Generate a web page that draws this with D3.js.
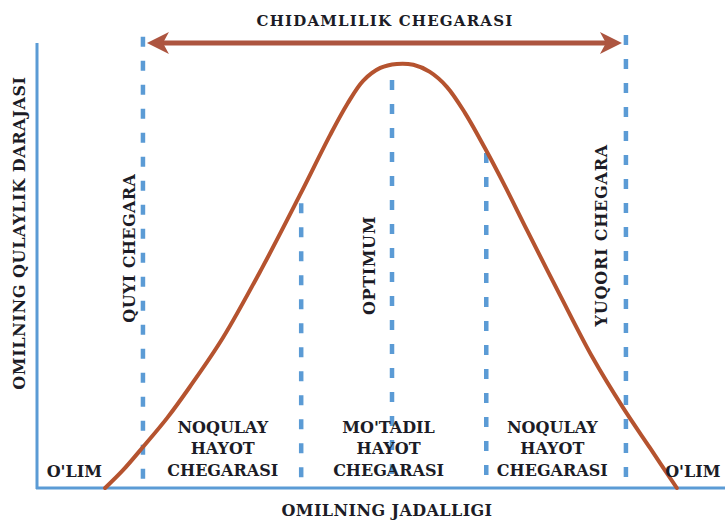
<!DOCTYPE html>
<html>
<head>
<meta charset="utf-8">
<script src="https://d3js.org/d3.v7.min.js"></script>
<style>
  body { margin: 0; background: #fff; }
  svg text { font-weight: bold; fill: #1c1c26; }
</style>
</head>
<body>
<script>
  // size of the picture
  var w = 725;
  var h = 520;

  // curve: factor intensity (0-100) vs favourability (0-100)
  var curveX = [9.9, 12.5, 15.4, 18.9, 22.2, 27.0, 32.8, 38.2, 42.6, 45.1, 47.4, 49.9, 52.3, 54.7, 57.1, 59.6, 62.2, 65.1, 68.0, 71.2, 76.0, 80.8, 85.2, 89.1, 93.0];
  var curveY = [0, 4.0, 9.2, 15.7, 22.7, 33.7, 49.7, 65.8, 79.3, 86.3, 91.5, 94.4, 95.3, 95.1, 93.5, 90.1, 84.3, 76.4, 67.9, 58.0, 43.4, 29.2, 18.0, 9.0, 0];

  // dashed boundaries: position and how high they reach
  var boundX = [15.4, 38.4, 51.6, 65.3, 85.6];
  var boundTop = [101.4, 64.0, 91.7, 75.3, 101.8];

  // zone labels (below the curve)
  var zoneNames = [["NOQULAY", "HAYOT", "CHEGARASI"], ["MO'TADIL", "HAYOT", "CHEGARASI"], ["NOQULAY", "HAYOT", "CHEGARASI"]];
  var zoneCenter = [27.0, 51.1, 74.9];
  var deathX = [1.4, 91.3];

  // vertical labels: text, x, y centre
  var vLabels = ["QUYI CHEGARA", "OPTIMUM", "YUQORI CHEGARA"];
  var vLabelX = [13.4, 48.3, 82.0];
  var vLabelY = [53.9, 50.0, 56.8];

  var titleTop = "CHIDAMLILIK CHEGARASI";
  var titleX = "OMILNING JADALLIGI";
  var titleY = "OMILNING QULAYLIK DARAJASI";

  var blue = "#5b9bd5";
  var red = "#b5532f";
  var serif = '"DejaVu Serif", serif';

  var svg = d3.select("body").append("svg")
    .attr("width", w)
    .attr("height", h);

  var x = d3.scaleLinear().domain([0, 100]).range([37, 725]);
  var y = d3.scaleLinear().domain([0, 100]).range([488, 43]);

  // dashed boundary lines
  svg.selectAll("line.bound")
    .data(boundX)
    .enter().append("line")
    .attr("class", "bound")
    .attr("x1", function(d) { return x(d); })
    .attr("x2", function(d) { return x(d); })
    .attr("y1", function(d, i) { return y(boundTop[i]); })
    .attr("y2", y(0))
    .attr("stroke", blue)
    .attr("stroke-width", 4.5)
    .attr("stroke-dasharray", "10,14");

  // axes
  svg.append("line")
    .attr("x1", x(0)).attr("x2", x(0))
    .attr("y1", y(100)).attr("y2", y(0) + 1)
    .attr("stroke", blue).attr("stroke-width", 3);
  svg.append("line")
    .attr("x1", x(0) - 1).attr("x2", x(100))
    .attr("y1", y(0)).attr("y2", y(0))
    .attr("stroke", blue).attr("stroke-width", 3);

  // tolerance range arrow
  var aL = x(boundX[0]) + 4;
  var aR = x(boundX[4]) - 4;
  var aY = y(100);
  svg.append("line")
    .attr("x1", aL + 10).attr("x2", aR - 10)
    .attr("y1", aY).attr("y2", aY)
    .attr("stroke", "#ad5540").attr("stroke-width", 5);
  [[aL, 1], [aR, -1]].forEach(function(a) {
    var t = a[0], s = a[1];
    svg.append("path")
      .attr("d", "M" + t + "," + aY + "L" + (t + s * 22) + "," + (aY - 11) + "L" + (t + s * 16) + "," + aY +
        "L" + (t + s * 22) + "," + (aY + 11) + "Z")
      .attr("fill", "#ad5540");
  });

  // the curve
  var pts = curveX.map(function(d, i) { return [d, curveY[i]]; });
  var line = d3.line()
    .x(function(d) { return x(d[0]); })
    .y(function(d) { return y(d[1]); })
    .curve(d3.curveCatmullRom.alpha(0.5));
  svg.append("path")
    .datum(pts)
    .attr("d", line)
    .attr("fill", "none")
    .attr("stroke", red)
    .attr("stroke-width", 4)
    .attr("stroke-linecap", "round");

  // titles
  svg.append("text")
    .text(titleTop)
    .attr("x", 385).attr("y", 26)
    .attr("text-anchor", "middle")
    .attr("font-family", serif)
    .attr("font-size", 15)
    .attr("letter-spacing", 1.2);
  svg.append("text")
    .text(titleX)
    .attr("x", 387).attr("y", 516)
    .attr("text-anchor", "middle")
    .attr("font-family", serif)
    .attr("font-size", 16)
    .attr("letter-spacing", 0.4);
  svg.append("text")
    .text(titleY)
    .attr("transform", "translate(25,233) rotate(-90)")
    .attr("text-anchor", "middle")
    .attr("font-family", serif)
    .attr("font-size", 16)
    .attr("letter-spacing", 0.6);

  // vertical labels
  var vSpacing = [0.4, 0.6, 0.8];
  vLabels.forEach(function(t, i) {
    svg.append("text")
      .text(t)
      .attr("transform", "translate(" + (x(vLabelX[i]) + 6) + "," + y(vLabelY[i]) + ") rotate(-90)")
      .attr("text-anchor", "middle")
      .attr("font-family", serif)
      .attr("font-size", 16)
      .attr("letter-spacing", vSpacing[i]);
  });

  // zone labels
  var baselines = [433, 454, 476];
  zoneNames.forEach(function(lines, i) {
    lines.forEach(function(t, j) {
      svg.append("text")
        .text(t)
        .attr("x", x(zoneCenter[i]))
        .attr("y", baselines[j])
        .attr("text-anchor", "middle")
        .attr("font-family", serif)
        .attr("font-size", 16)
        .attr("letter-spacing", 0);
    });
  });

  deathX.forEach(function(d) {
    svg.append("text")
      .text("O'LIM")
      .attr("x", x(d))
      .attr("y", 477)
      .attr("font-family", serif)
      .attr("font-size", 16)
      .attr("letter-spacing", 0);
  });
</script>
</body>
</html>
